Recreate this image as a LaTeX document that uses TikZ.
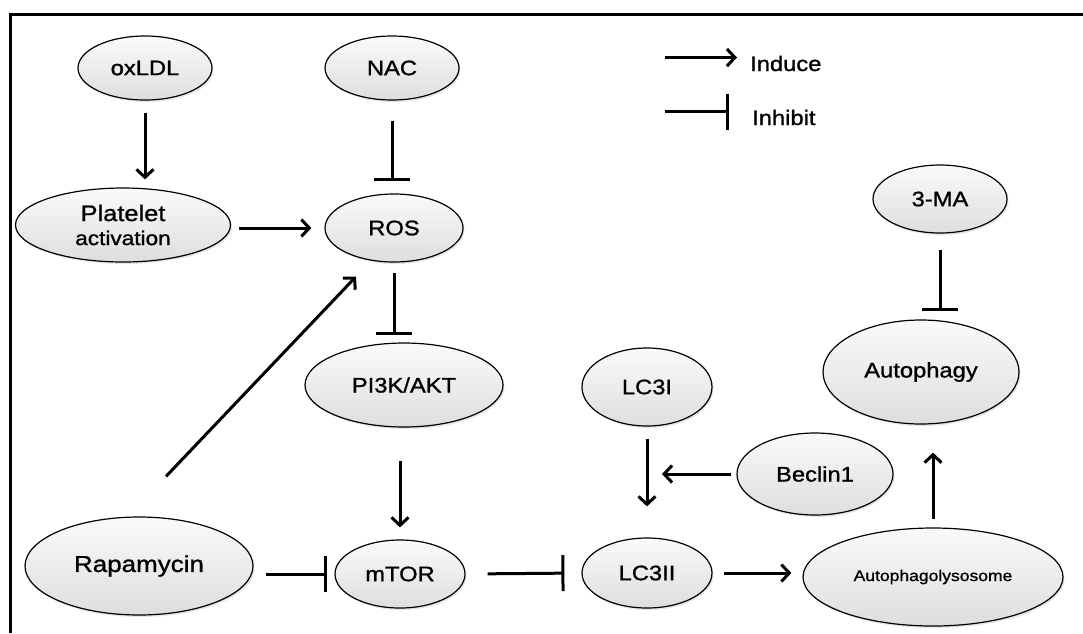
\documentclass[tikz,border=0pt]{standalone}
\usepackage{fontspec}
\setmainfont{Liberation Sans}[FakeStretch=1.13,FakeBold=1.1]
\usepackage{tikz}
\usetikzlibrary{shapes.geometric}
\usetikzlibrary{arrows.meta}
\usetikzlibrary{shadows}

\begin{document}
\begin{tikzpicture}[x=1pt,y=-1pt,
  every node/.style={font=\fontsize{21}{24}\selectfont},
  bubble/.style={ellipse,draw,line width=1.2pt,inner sep=0pt,top color=gray!4,bottom color=gray!26,
    drop shadow={opacity=0.2,shadow xshift=1.5pt,shadow yshift=-2pt}},
  ind/.style={line width=3pt,-{Straight Barb[length=8pt,width=17pt]}},
  inh/.style={line width=3pt,-{Bar[width=36pt]}}]
\useasboundingbox (0,0) rectangle (1083,633);
\draw[line width=3pt] (10,633) -- (10,14) -- (1083,14);

% pathway
\node[bubble,minimum width=134pt,minimum height=64pt] (ox) at (145,68) {oxLDL};
\node[bubble,minimum width=134pt,minimum height=64pt] (nac) at (392,68) {NAC};
\node[bubble,minimum width=215pt,minimum height=74pt,align=center] (plt) at (123,225)
  {{\fontsize{22.5}{25}\selectfont Platelet}\\{\fontsize{20}{22}\selectfont activation}};
\node[bubble,minimum width=138pt,minimum height=68pt] (ros) at (394,228) {ROS};
\node[bubble,minimum width=198pt,minimum height=84pt] (pik) at (404,385) {PI3K/AKT};
\node[bubble,minimum width=228pt,minimum height=98pt,font=\fontsize{23}{26}\selectfont] (rapa) at (139,566) {Rapamycin};
\node[bubble,minimum width=130pt,minimum height=68pt] (mtor) at (400,574) {mTOR};
\node[bubble,minimum width=130pt,minimum height=78pt] (lci) at (647,387) {LC3I};
\node[bubble,minimum width=130pt,minimum height=70pt] (lcii) at (647,573) {LC3II};
\node[bubble,minimum width=156pt,minimum height=82pt] (bec) at (815,474) {Beclin1};
\node[bubble,minimum width=260pt,minimum height=98pt,font=\fontsize{15.5}{18}\selectfont] (alys) at (933,577) {Autophagolysosome};
\node[bubble,minimum width=196pt,minimum height=104pt] (auto) at (921,372) {Autophagy};
\node[bubble,minimum width=134pt,minimum height=68pt] (ma) at (940,199) {3-MA};
\coordinate (lcj) at (662,474);

\draw[ind,shorten <=12pt,shorten >=8pt] (ox.south) -- (ox.south |- plt.north);
\draw[inh,shorten <=20pt,shorten >=12pt] (nac.south) -- (nac.south |- ros.north);
\draw[ind,shorten <=8pt,shorten >=13pt] (plt.east |- ros.west) -- (ros.west);
\draw[inh,shorten <=10pt,shorten >=7pt] (ros.south) -- (ros.south |- pik.north);
\draw[ind] ([shift={(27,-40)}]rapa.north) -- ([shift={(-38,14)}]ros.south);
\draw[ind,shorten <=33pt,shorten >=12pt] (mtor.north |- pik.south) -- (mtor.north);
\draw[inh,shorten <=12pt,shorten >=7pt] (rapa.east |- mtor.west) -- (mtor.west);
\draw[inh,shorten <=22pt,shorten >=17pt] (mtor.east) -- (lcii.west);
\draw[ind,shorten <=12pt,shorten >=31pt] (lci.south) -- (lcii.north);
\draw[ind,shorten <=5pt] (bec.west) -- (lcj);
\draw[ind,shorten <=11pt,shorten >=11pt] (lcii.east) -- (alys.west |- lcii.east);
\draw[ind,shorten <=8pt,shorten >=28pt] (alys.north) -- (alys.north |- auto.south);
\draw[inh,shorten <=16pt,shorten >=8pt] (ma.south) -- (ma.south |- auto.north);

% legend
\node[anchor=west,inner sep=0pt] (induce) at (750,63.5) {Induce};
\node[anchor=west,inner sep=0pt] (inhibit) at (752,117.5) {Inhibit};
\draw[ind] ([shift={(-85,-6)}]induce.west) -- ([shift={(-13,-6)}]induce.west);
\draw[inh] ([shift={(-87,-6)}]inhibit.west) -- ([shift={(-23,-6)}]inhibit.west);
\end{tikzpicture}
\end{document}
